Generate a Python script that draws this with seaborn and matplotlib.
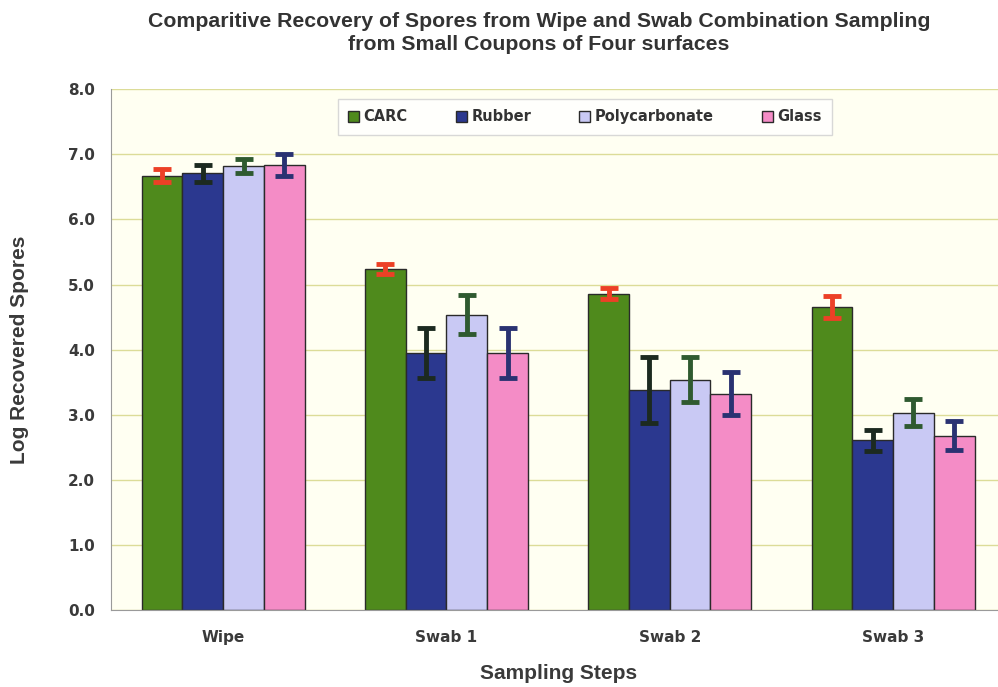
import matplotlib
matplotlib.use("Agg")
import matplotlib.pyplot as plt
import seaborn as sns
import pandas as pd
import numpy as np

steps = ["Wipe", "Swab 1", "Swab 2", "Swab 3"]
surfaces = ["CARC", "Rubber", "Polycarbonate", "Glass"]

carc = [6.67, 5.24, 4.86, 4.65]
rubber = [6.71, 3.95, 3.38, 2.61]
polycarb = [6.82, 4.54, 3.54, 3.03]
glass = [6.84, 3.95, 3.32, 2.68]

carc_err = [0.10, 0.08, 0.08, 0.17]
rubber_err = [0.13, 0.38, 0.50, 0.16]
polycarb_err = [0.11, 0.30, 0.34, 0.21]
glass_err = [0.17, 0.38, 0.33, 0.22]

bar_colors = ["#4f8a1c", "#2b388f", "#c9c9f4", "#f48cc6"]
err_colors = ["#ec4026", "#1c2a20", "#2f5a30", "#2a3272"]

df = pd.DataFrame({
    "step": steps * 4,
    "surface": np.repeat(surfaces, 4),
    "value": carc + rubber + polycarb + glass,
    "err": carc_err + rubber_err + polycarb_err + glass_err,
})

sns.set_style("white")
plt.rcParams["font.family"] = ["DejaVu Sans"]

fig = plt.figure(figsize=(9.98, 6.87), dpi=100)
ax = fig.add_axes([0.1117, 0.112, 0.895, 0.758])
ax.set_facecolor("#fffff2")

sns.barplot(data=df, x="step", y="value", hue="surface", order=steps,
            hue_order=surfaces, palette=bar_colors, saturation=1,
            errorbar=None, width=0.73, edgecolor="#2a2a2a", linewidth=1.0,
            ax=ax, zorder=2)

# error bars at bar centres, taken from the drawn patches
for i, s in enumerate(surfaces):
    cont = ax.containers[i]
    xs = [p.get_x() + p.get_width() / 2 for p in cont.patches]
    sub = df[df["surface"] == s].set_index("step").loc[steps]
    ax.errorbar(xs, sub["value"], yerr=sub["err"], fmt="none",
                ecolor=err_colors[i], elinewidth=3.5, capsize=6.5,
                capthick=3.5, zorder=3)

ax.set_xlim(-0.5, 3.5)
ax.set_ylim(0, 8)
ax.set_yticks(np.arange(0, 8.1, 1.0))
ax.set_yticklabels([f"{v:.1f}" for v in np.arange(0, 8.1, 1.0)])
ax.yaxis.grid(True, color="#dcdc98", linewidth=1.0, zorder=0)
ax.set_axisbelow(True)
for side in ["top", "right"]:
    ax.spines[side].set_visible(False)
ax.spines["left"].set_color("#9a9a9a")
ax.spines["bottom"].set_color("#9a9a9a")
ax.tick_params(axis="y", length=4, color="#9a9a9a", labelsize=11, pad=8)
ax.tick_params(axis="x", length=0, labelsize=11, pad=14)

ax.set_xlabel("Sampling Steps", fontsize=15, fontweight="bold",
              family="Liberation Sans", labelpad=14, color="#3a3a3a")
ax.set_ylabel("Log Recovered Spores", fontsize=15, fontweight="bold",
              family="Liberation Sans", labelpad=28, color="#3a3a3a")
for lab in ax.get_xticklabels() + ax.get_yticklabels():
    lab.set_fontweight("bold")
    lab.set_color("#3a3a3a")

fig.suptitle("Comparitive Recovery of Spores from Wipe and Swab Combination Sampling\n"
             "from Small Coupons of Four surfaces",
             x=0.54, y=0.983, fontsize=15.3, fontweight="bold",
             family="Liberation Sans", color="#333333", linespacing=1.3)

leg = ax.legend(loc="upper center", bbox_to_anchor=(0.53, 0.995), ncol=4,
                frameon=True, fancybox=False, fontsize=10.5,
                handlelength=0.75, handleheight=0.75, handletextpad=0.3,
                columnspacing=3.3, borderpad=0.7)
leg.get_frame().set_edgecolor("#cfcfcf")
leg.get_frame().set_facecolor("white")
for t in leg.get_texts():
    t.set_fontweight("bold")
    t.set_color("#333333")

fig.savefig("out.png", dpi=100)
